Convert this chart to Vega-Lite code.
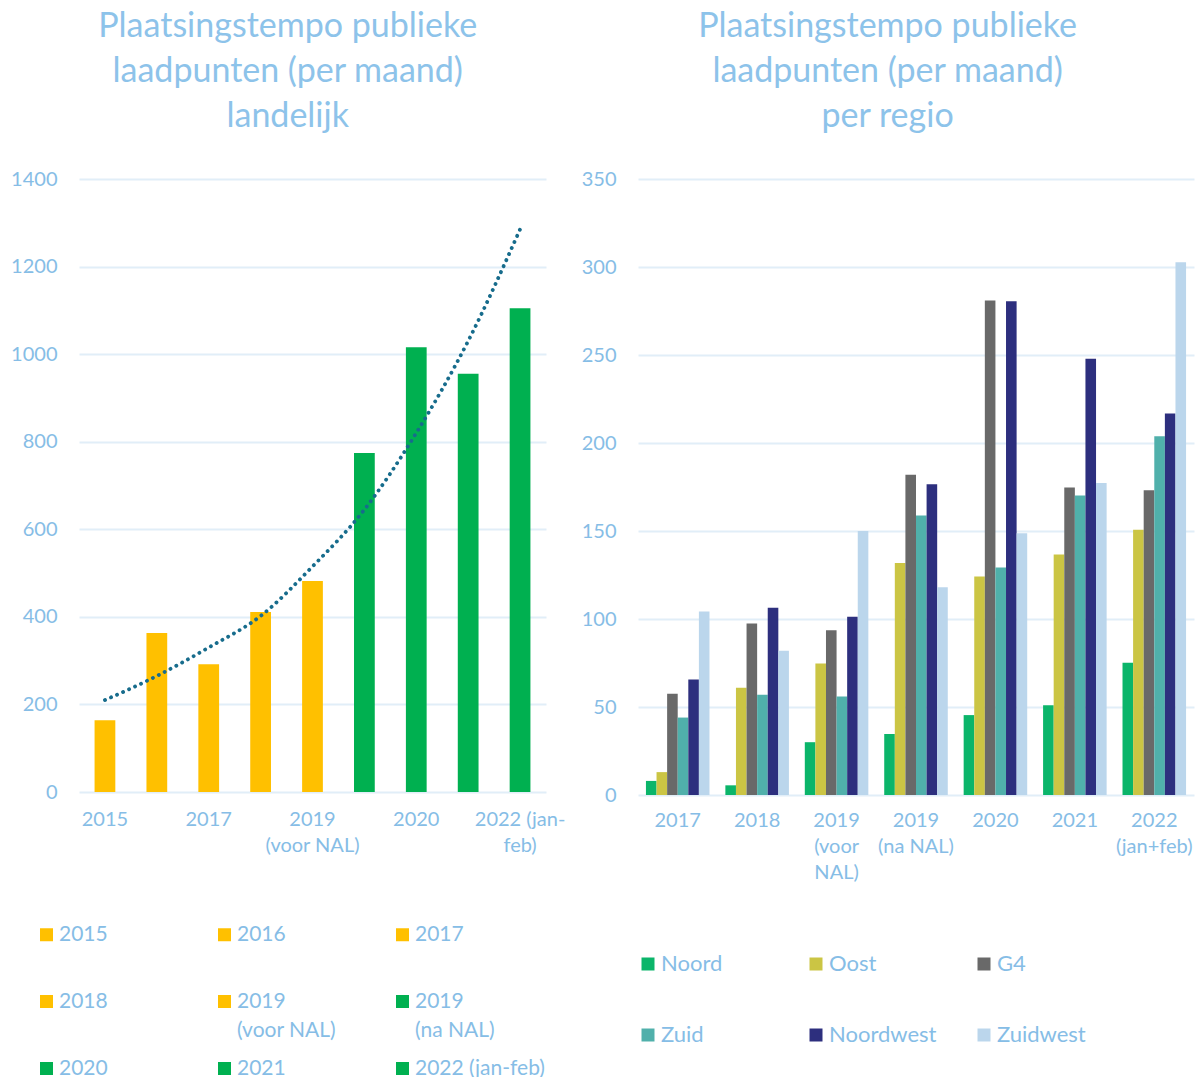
{
  "$schema": "https://vega.github.io/schema/vega-lite/v6.json",
  "background": "white",
  "padding": {"left": 10, "top": 10, "right": 5, "bottom": 5},
  "config": {
    "font": "Lato",
    "view": {"stroke": null},
    "style": {"guide-label": {"lineHeight": 29}},
    "axis": {"labelColor": "#86BDE6", "labelFontSize": 20, "labelFont": "Lato", "labelLineHeight": 26, "domain": false, "ticks": false, "title": null, "gridColor": "#E1EEF8", "gridWidth": 2},
    "legend": {"labelColor": "#86BDE6", "labelFont": "Lato", "title": null, "symbolType": "square", "symbolSize": 169, "symbolStrokeWidth": 0, "labelOffset": 2, "direction": "horizontal"}
  },
  "resolve": {"scale": {"color": "independent"}, "legend": {"color": "independent"}},
  "datasets": {
    "landelijk": [
      {"cat": "2015", "value": 164, "trend": 210},
      {"cat": "2016", "value": 363, "trend": 265},
      {"cat": "2017", "value": 292, "trend": 330},
      {"cat": "2018", "value": 411, "trend": 402},
      {"cat": "2019 (voor NAL)", "value": 482, "trend": 515},
      {"cat": "2019 (na NAL)", "value": 774, "trend": 645},
      {"cat": "2020", "value": 1016, "trend": 820},
      {"cat": "2021", "value": 955, "trend": 1030},
      {"cat": "2022 (jan-feb)", "value": 1105, "trend": 1285}
    ],
    "regio": [
      {"period": "2017", "region": "Noord", "value": 8},
      {"period": "2017", "region": "Oost", "value": 13},
      {"period": "2017", "region": "G4", "value": 57.5},
      {"period": "2017", "region": "Zuid", "value": 44},
      {"period": "2017", "region": "Noordwest", "value": 65.6},
      {"period": "2017", "region": "Zuidwest", "value": 104.2},
      {"period": "2018", "region": "Noord", "value": 5.5},
      {"period": "2018", "region": "Oost", "value": 60.9},
      {"period": "2018", "region": "G4", "value": 97.4},
      {"period": "2018", "region": "Zuid", "value": 56.9},
      {"period": "2018", "region": "Noordwest", "value": 106.4},
      {"period": "2018", "region": "Zuidwest", "value": 81.9},
      {"period": "2019 (voor NAL)", "region": "Noord", "value": 30},
      {"period": "2019 (voor NAL)", "region": "Oost", "value": 74.7},
      {"period": "2019 (voor NAL)", "region": "G4", "value": 93.6},
      {"period": "2019 (voor NAL)", "region": "Zuid", "value": 56},
      {"period": "2019 (voor NAL)", "region": "Noordwest", "value": 101.3},
      {"period": "2019 (voor NAL)", "region": "Zuidwest", "value": 150},
      {"period": "2019 (na NAL)", "region": "Noord", "value": 34.6},
      {"period": "2019 (na NAL)", "region": "Oost", "value": 131.8},
      {"period": "2019 (na NAL)", "region": "G4", "value": 181.9},
      {"period": "2019 (na NAL)", "region": "Zuid", "value": 158.8},
      {"period": "2019 (na NAL)", "region": "Noordwest", "value": 176.6},
      {"period": "2019 (na NAL)", "region": "Zuidwest", "value": 118},
      {"period": "2020", "region": "Noord", "value": 45.4},
      {"period": "2020", "region": "Oost", "value": 124.2},
      {"period": "2020", "region": "G4", "value": 280.9},
      {"period": "2020", "region": "Zuid", "value": 129.3},
      {"period": "2020", "region": "Noordwest", "value": 280.5},
      {"period": "2020", "region": "Zuidwest", "value": 148.7},
      {"period": "2021", "region": "Noord", "value": 51},
      {"period": "2021", "region": "Oost", "value": 136.7},
      {"period": "2021", "region": "G4", "value": 174.7},
      {"period": "2021", "region": "Zuid", "value": 170.1},
      {"period": "2021", "region": "Noordwest", "value": 247.9},
      {"period": "2021", "region": "Zuidwest", "value": 177.3},
      {"period": "2022 (jan+feb)", "region": "Noord", "value": 75.2},
      {"period": "2022 (jan+feb)", "region": "Oost", "value": 150.7},
      {"period": "2022 (jan+feb)", "region": "G4", "value": 173.2},
      {"period": "2022 (jan+feb)", "region": "Zuid", "value": 203.8},
      {"period": "2022 (jan+feb)", "region": "Noordwest", "value": 216.7},
      {"period": "2022 (jan+feb)", "region": "Zuidwest", "value": 302.7}
    ]
  },
  "hconcat": [
    {
      "width": 467,
      "height": 613,
      "data": {"name": "landelijk"},
      "title": {"text": ["Plaatsingstempo publieke", "laadpunten (per maand)", "landelijk"], "frame": "bounds", "anchor": "middle", "fontSize": 34, "lineHeight": 45, "color": "#8DC3EA", "font": "Lato", "fontWeight": "normal", "offset": 35},
      "layer": [
        {
          "mark": {"type": "bar"},
          "encoding": {
            "x": {"field": "cat", "type": "nominal", "sort": null,
              "scale": {"paddingInner": 0.6, "paddingOuter": 0.3},
              "axis": {"labelAngle": 0, "labelOverlap": false, "labelPadding": 17, "grid": false,
                "labelExpr": "datum.value == '2019 (voor NAL)' ? ['2019', '(voor NAL)'] : datum.value == '2022 (jan-feb)' ? ['2022 (jan-', 'feb)'] : (datum.value == '2015' || datum.value == '2017' || datum.value == '2020') ? datum.value : ''"}},
            "y": {"field": "value", "type": "quantitative",
              "scale": {"domain": [0, 1400]},
              "axis": {"values": [0, 200, 400, 600, 800, 1000, 1200, 1400], "format": "d", "labelPadding": 22}},
            "color": {"field": "cat", "type": "nominal", "sort": null,
              "scale": {"domain": ["2015", "2016", "2017", "2018", "2019 (voor NAL)", "2019 (na NAL)", "2020", "2021", "2022 (jan-feb)"],
                "range": ["#FFC000", "#FFC000", "#FFC000", "#FFC000", "#FFC000", "#00B050", "#00B050", "#00B050", "#00B050"]},
              "legend": {"orient": "none", "legendX": -43, "legendY": 745, "columns": 3, "gridAlign": "all", "columnPadding": 25, "rowPadding": 16, "labelFontSize": 21, "labelBaseline": "middle",
                "labelExpr": "datum.label == '2019 (voor NAL)' ? ['2019', '(voor NAL)'] : datum.label == '2019 (na NAL)' ? ['2019', '(na NAL)'] : [datum.label, ' ']"}}
          }
        },
        {
          "mark": {"type": "line", "color": "#176C8C", "strokeWidth": 3.8, "strokeDash": [0.1, 6.5], "strokeCap": "round", "interpolate": "monotone"},
          "encoding": {
            "x": {"field": "cat", "type": "nominal", "sort": null},
            "y": {"field": "trend", "type": "quantitative"}
          }
        }
      ]
    },
    {
      "width": 556,
      "height": 616,
      "data": {"name": "regio"},
      "title": {"text": ["Plaatsingstempo publieke", "laadpunten (per maand)", "per regio"], "frame": "bounds", "anchor": "middle", "fontSize": 34, "lineHeight": 45, "color": "#8DC3EA", "font": "Lato", "fontWeight": "normal", "offset": 35},
      "mark": {"type": "bar"},
      "encoding": {
        "x": {"field": "period", "type": "nominal", "sort": null,
          "scale": {"paddingInner": 0.2, "paddingOuter": 0.1},
          "axis": {"labelAngle": 0, "labelOverlap": false, "labelPadding": 15, "grid": false,
            "labelExpr": "datum.value == '2019 (voor NAL)' ? ['2019', '(voor', 'NAL)'] : datum.value == '2019 (na NAL)' ? ['2019', '(na NAL)'] : datum.value == '2022 (jan+feb)' ? ['2022', '(jan+feb)'] : datum.value"}},
        "xOffset": {"field": "region", "type": "nominal", "sort": null},
        "y": {"field": "value", "type": "quantitative",
          "scale": {"domain": [0, 350]},
          "axis": {"values": [0, 50, 100, 150, 200, 250, 300, 350], "format": "d", "labelPadding": 22}},
        "color": {"field": "region", "type": "nominal", "sort": null,
          "scale": {"domain": ["Noord", "Oost", "G4", "Zuid", "Noordwest", "Zuidwest"],
            "range": ["#0BB56A", "#CBC544", "#696969", "#50B0AB", "#2D2F7E", "#BBD6EC"]},
          "legend": {"orient": "none", "legendX": -1, "legendY": 774, "columns": 3, "gridAlign": "all", "columnPadding": 36, "rowPadding": 49, "labelFontSize": 22}}
      }
    }
  ],
  "spacing": 16
}
